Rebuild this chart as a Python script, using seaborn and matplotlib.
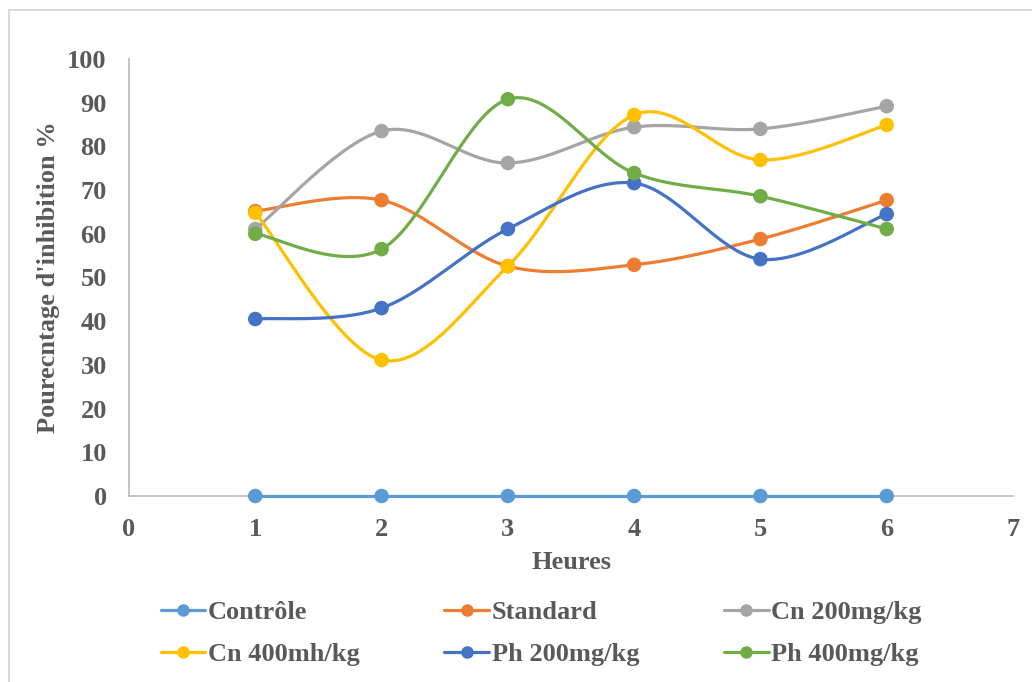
import numpy as np
import pandas as pd
import matplotlib
matplotlib.use("Agg")
import matplotlib.pyplot as plt
from matplotlib.lines import Line2D
from matplotlib.patches import Rectangle
import seaborn as sns

# Inhibition percentages per treatment group over time
heures = [1, 2, 3, 4, 5, 6]
controle = [0, 0, 0, 0, 0, 0]
standard = [65.2, 67.7, 52.6, 52.9, 58.8, 67.7]
cn_200 = [61.1, 83.5, 76.2, 84.4, 84.0, 89.2]
cn_400 = [64.8, 31.1, 52.6, 87.2, 76.9, 84.9]
ph_200 = [40.5, 43.0, 61.1, 71.6, 54.2, 64.5]
ph_400 = [60.0, 56.5, 90.8, 73.9, 68.6, 61.1]

series_names = ["Contrôle", "Standard", "Cn 200mg/kg",
                "Cn 400mh/kg", "Ph 200mg/kg", "Ph 400mg/kg"]
series_values = [controle, standard, cn_200, cn_400, ph_200, ph_400]
palette = ["#5B9BD5", "#ED7D31", "#A5A5A5", "#FFC000", "#4472C4", "#70AD47"]

y_ticks = [0, 10, 20, 30, 40, 50, 60, 70, 80, 90, 100]
x_ticks = [0, 1, 2, 3, 4, 5, 6, 7]

df = pd.DataFrame({
    "Heures": heures * len(series_names),
    "Inhibition": [v for vals in series_values for v in vals],
    "Groupe": [n for n in series_names for _ in heures],
})

sns.set_theme(style="white")
plt.rcParams["font.family"] = ["Liberation Serif", "DejaVu Serif"]
plt.rcParams["font.weight"] = "bold"
text_color = "#595959"
axis_color = "#BFBFBF"
FS = 19


def smooth_curve(x, y, steps=40):
    """Catmull-Rom style Bezier smoothing through the given points."""
    x = np.asarray(x, float)
    y = np.asarray(y, float)
    pts = np.column_stack([x, y])
    out = []
    n = len(pts)
    for i in range(n - 1):
        p0 = pts[i - 1] if i > 0 else pts[i]
        p1 = pts[i]
        p2 = pts[i + 1]
        p3 = pts[i + 2] if i + 2 < n else pts[i + 1]
        c1 = p1 + (p2 - p0) / 6.0
        c2 = p2 - (p3 - p1) / 6.0
        t = np.linspace(0, 1, steps)[:, None]
        seg = ((1 - t) ** 3) * p1 + 3 * ((1 - t) ** 2) * t * c1 \
            + 3 * (1 - t) * t ** 2 * c2 + t ** 3 * p2
        out.append(seg if i == 0 else seg[1:])
    out = np.vstack(out)
    return out[:, 0], out[:, 1]


fig = plt.figure(figsize=(10.32, 6.82), dpi=100)
fig.patch.set_facecolor("white")

# chart area border
fig.add_artist(Rectangle((9 / 1032, -0.05), 1.2, 1 - 10 / 682 + 0.05,
                         transform=fig.transFigure, fill=False,
                         edgecolor="#D9D9D9", linewidth=1.5))

ax = fig.add_axes([129 / 1032, 1 - 496 / 682, (1013 - 129) / 1032, (496 - 59) / 682])

for name, vals, col in zip(series_names, series_values, palette):
    sx, sy = smooth_curve(heures, vals)
    ax.plot(sx, sy, color=col, linewidth=2.3, solid_capstyle="round",
            zorder=3, clip_on=False)

sns.scatterplot(data=df, x="Heures", y="Inhibition", hue="Groupe",
                hue_order=series_names, palette=palette, s=110,
                edgecolor="none", legend=False, ax=ax, zorder=4, clip_on=False)

ax.set_xlim(0, 7)
ax.set_ylim(0, 100)
ax.set_xticks(x_ticks)
ax.set_yticks(y_ticks)
ax.tick_params(axis="both", length=0, labelsize=FS, labelcolor=text_color)
ax.tick_params(axis="x", pad=16)
ax.tick_params(axis="y", pad=16)
for lbl in ax.get_xticklabels() + ax.get_yticklabels():
    lbl.set_fontweight("bold")

for side in ["top", "right"]:
    ax.spines[side].set_visible(False)
for side in ["left", "bottom"]:
    ax.spines[side].set_color(axis_color)
    ax.spines[side].set_linewidth(1.3)

ax.set_xlabel("Heures", fontsize=FS, fontweight="bold", color=text_color, labelpad=7)
ax.set_ylabel("Pourecntage d'inhibition %", fontsize=FS, fontweight="bold",
              color=text_color, labelpad=5)

# legend laid out row by row: three entries per row
order = [0, 3, 1, 4, 2, 5]
handles = [Line2D([0], [0], color=palette[i], linewidth=2.3, marker="o",
                  markersize=8, markeredgecolor=palette[i]) for i in order]
labels = [series_names[i] for i in order]
leg = fig.legend(handles, labels, loc="upper left",
                 bbox_to_anchor=(150 / 1032, 1 - 590 / 682), ncol=3,
                 frameon=False, handlelength=1.7, handletextpad=0.1,
                 columnspacing=3.2, labelspacing=0.72, borderaxespad=0,
                 prop={"family": "Liberation Serif", "weight": "bold", "size": FS})
for t in leg.get_texts():
    t.set_color(text_color)

fig.savefig("out.png", dpi=100, facecolor="white")
